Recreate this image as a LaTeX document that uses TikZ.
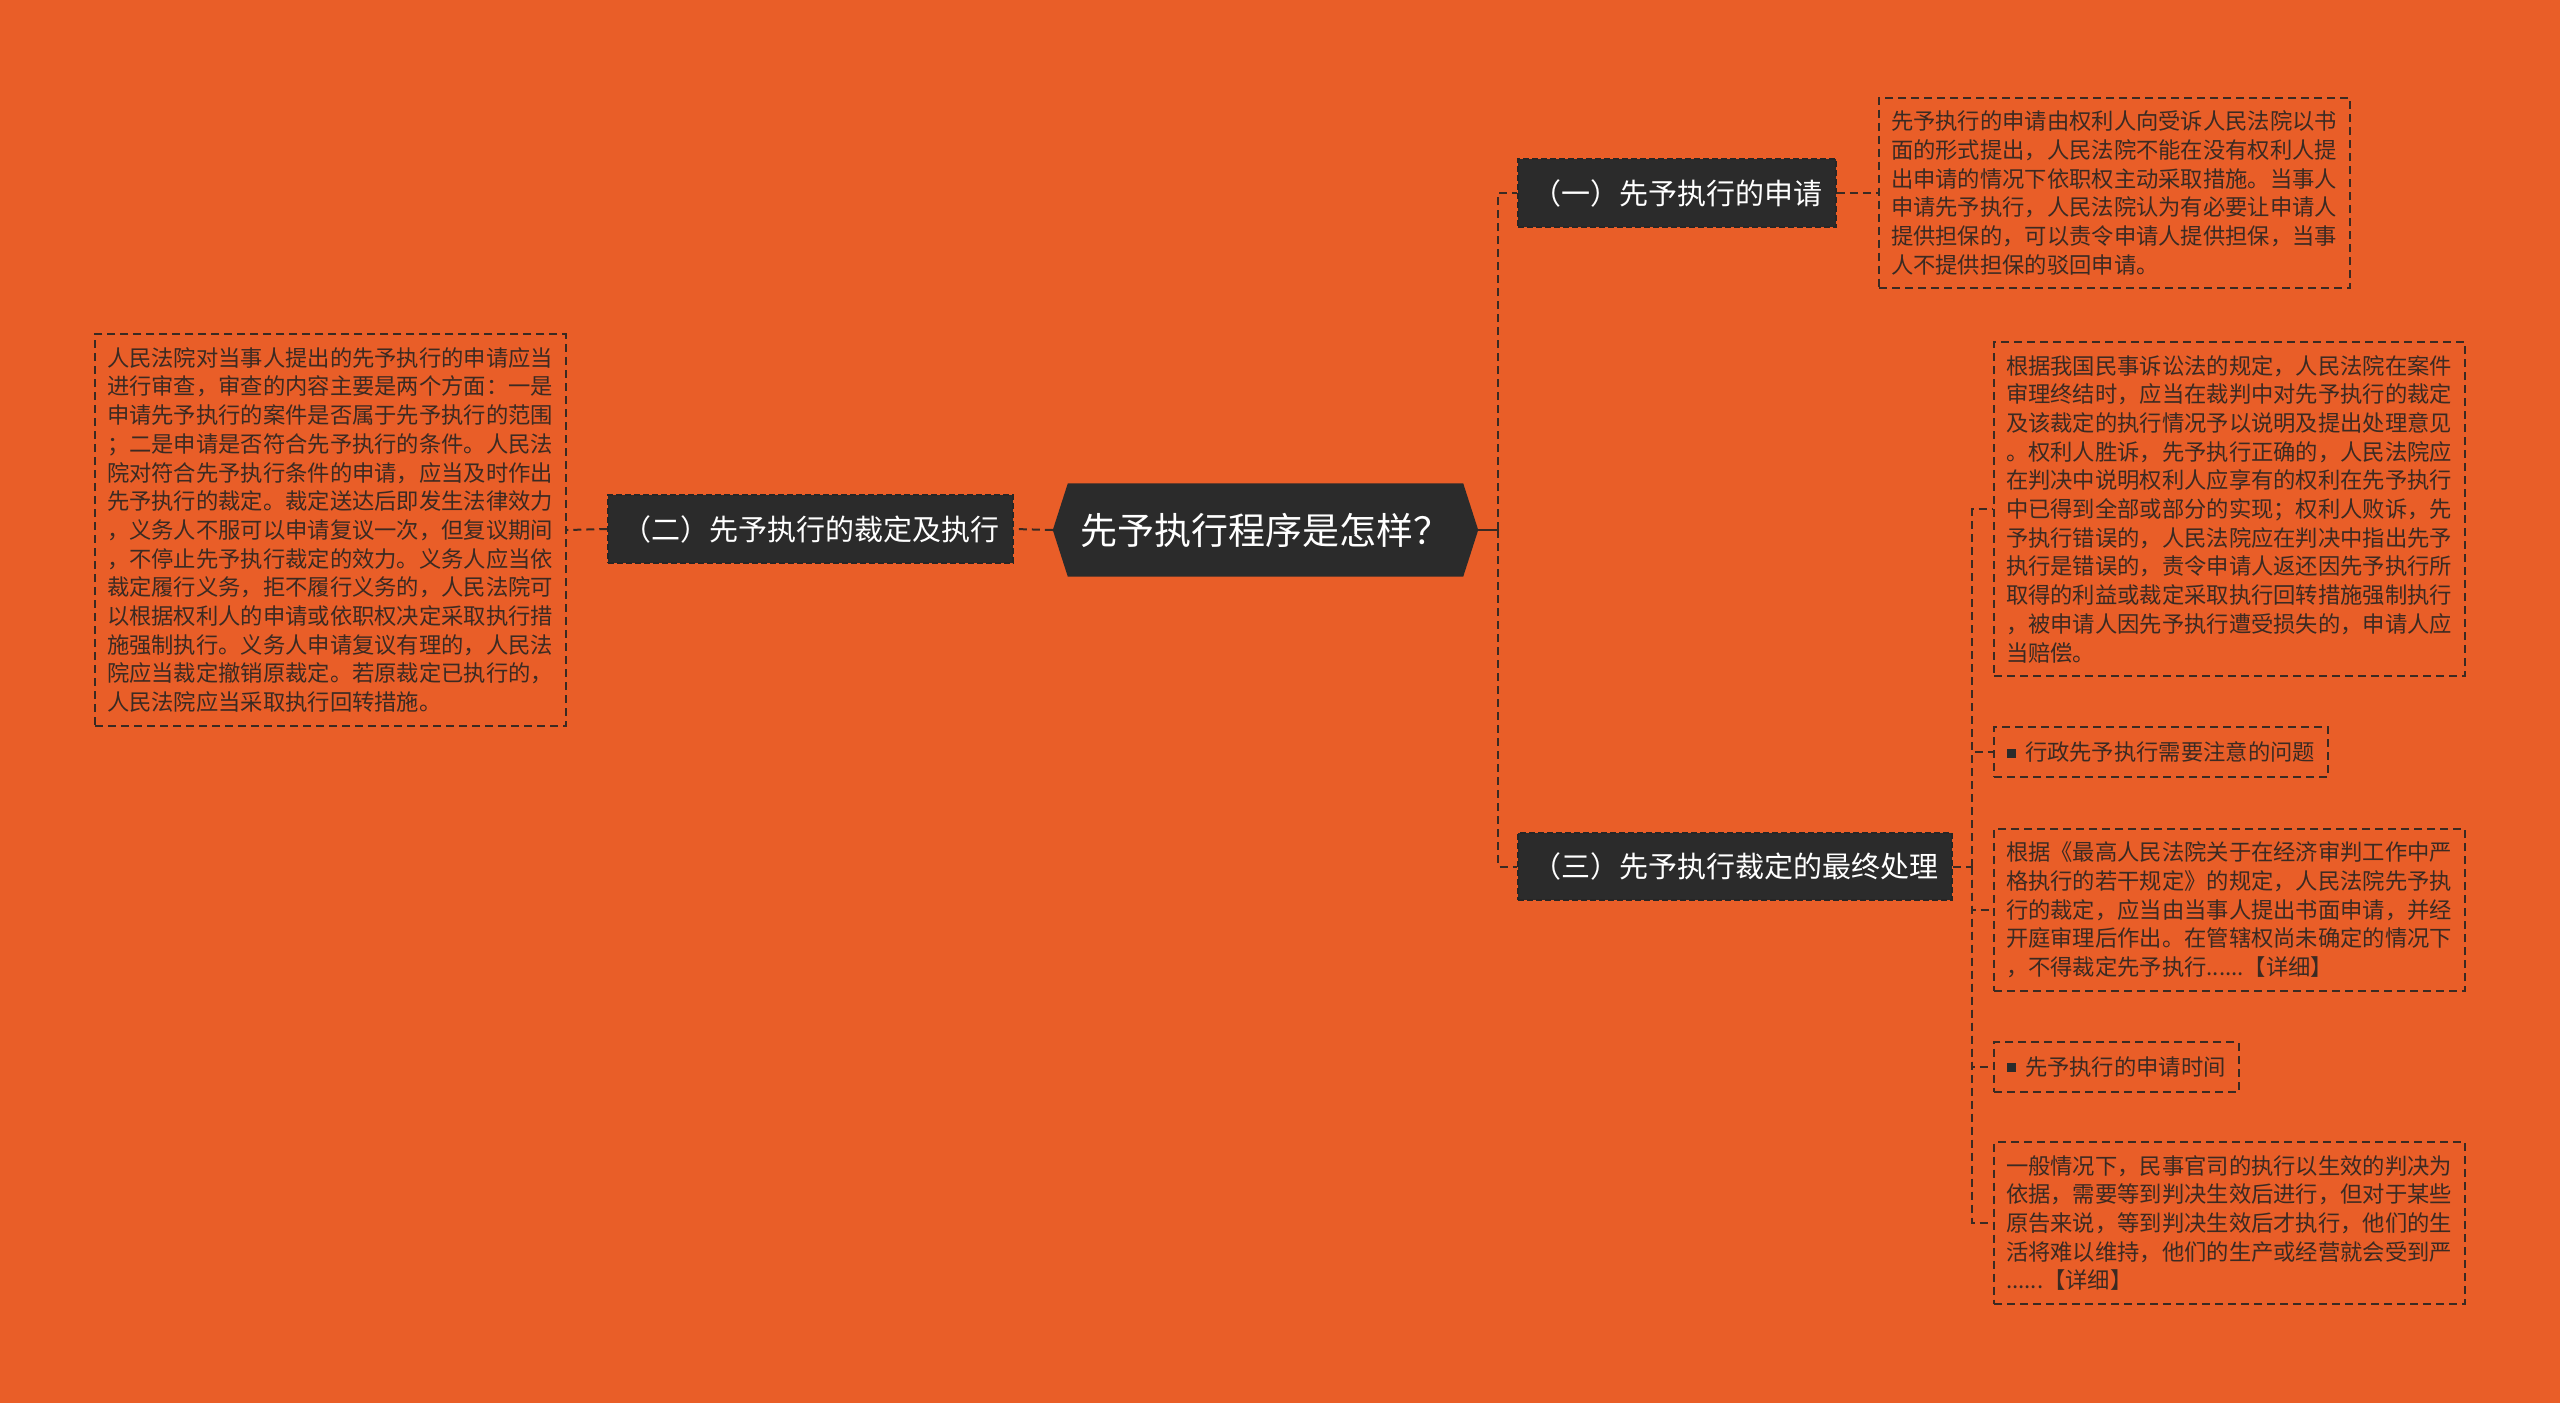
\documentclass[tikz,border=0pt]{standalone}
\usepackage{fontspec}
\setmainfont{Noto Sans CJK SC}
\usetikzlibrary{backgrounds}
\definecolor{bgorange}{HTML}{E95E28}
\definecolor{nodedark}{HTML}{2B2B2B}
\definecolor{inkbrown}{HTML}{3B2A22}
\newcommand{\sqmark}{\textcolor{nodedark}{\rule[3pt]{9pt}{9pt}}\hspace{9pt}}
\begin{document}
\begin{tikzpicture}[x=1pt,y=-1pt,
  link/.style={draw=inkbrown,line width=2pt,dash pattern=on 8pt off 5pt},
  branch/.style={fill=nodedark,draw=black!85,line width=1.5pt,dash pattern=on 6pt off 3pt,
    text=white,font=\fontsize{29}{34}\selectfont,minimum height=68pt,inner sep=0pt},
  leaf/.style={draw=inkbrown,line width=2pt,dash pattern=on 8pt off 5pt,text=inkbrown,
    font=\fontsize{22.3}{28.7}\selectfont,text width=447pt,align=left,inner xsep=12pt,inner ysep=13pt},
  tag/.style={draw=inkbrown,line width=2pt,dash pattern=on 8pt off 5pt,text=inkbrown,
    font=\fontsize{22.3}{28.7}\selectfont,minimum height=50pt,inner xsep=13pt,inner ysep=0pt}
]
\useasboundingbox (0,0) rectangle (2560,1403);

\node[text=white,font=\fontsize{37}{44}\selectfont,minimum width=425pt,minimum height=93pt,inner sep=0pt]
  (root) at (1265.5,530) {先予执行程序是怎样？};

\node[branch,minimum width=318pt] (apply) at (1677,193) {（一）先予执行的申请};
\node[branch,minimum width=405pt] (ruling) at (810.5,529) {（二）先予执行的裁定及执行};
\node[branch,minimum width=434pt,minimum height=67pt] (final) at (1735,866.5) {（三）先予执行裁定的最终处理};

\node[leaf,anchor=west] (applytxt) at (1878,193) {先予执行的申请由权利人向受诉人民法院以书\\
面的形式提出，人民法院不能在没有权利人提\\
出申请的情况下依职权主动采取措施。当事人\\
申请先予执行，人民法院认为有必要让申请人\\
提供担保的，可以责令申请人提供担保，当事\\
人不提供担保的驳回申请。};

\node[leaf,anchor=east] (rulingtxt) at (567,530) {人民法院对当事人提出的先予执行的申请应当\\
进行审查，审查的内容主要是两个方面：一是\\
申请先予执行的案件是否属于先予执行的范围\\
；二是申请是否符合先予执行的条件。人民法\\
院对符合先予执行条件的申请，应当及时作出\\
先予执行的裁定。裁定送达后即发生法律效力\\
，义务人不服可以申请复议一次，但复议期间\\
，不停止先予执行裁定的效力。义务人应当依\\
裁定履行义务，拒不履行义务的，人民法院可\\
以根据权利人的申请或依职权决定采取执行措\\
施强制执行。义务人申请复议有理的，人民法\\
院应当裁定撤销原裁定。若原裁定已执行的，\\
人民法院应当采取执行回转措施。};

\node[leaf,anchor=west] (finaltxt) at (1993,509) {根据我国民事诉讼法的规定，人民法院在案件\\
审理终结时，应当在裁判中对先予执行的裁定\\
及该裁定的执行情况予以说明及提出处理意见\\
。权利人胜诉，先予执行正确的，人民法院应\\
在判决中说明权利人应享有的权利在先予执行\\
中已得到全部或部分的实现；权利人败诉，先\\
予执行错误的，人民法院应在判决中指出先予\\
执行是错误的，责令申请人返还因先予执行所\\
取得的利益或裁定采取执行回转措施强制执行\\
，被申请人因先予执行遭受损失的，申请人应\\
当赔偿。};

\node[tag,anchor=west] (admintag) at (1993,752) {\sqmark 行政先予执行需要注意的问题};

\node[leaf,anchor=west] (admintxt) at (1993,910) {根据《最高人民法院关于在经济审判工作中严\\
格执行的若干规定》的规定，人民法院先予执\\
行的裁定，应当由当事人提出书面申请，并经\\
开庭审理后作出。在管辖权尚未确定的情况下\\
，不得裁定先予执行......【详细】};

\node[tag,anchor=west] (timetag) at (1993,1067) {\sqmark 先予执行的申请时间};

\node[leaf,anchor=west] (timetxt) at (1993,1223) {一般情况下，民事官司的执行以生效的判决为\\
依据，需要等到判决生效后进行，但对于某些\\
原告来说，等到判决生效后才执行，他们的生\\
活将难以维持，他们的生产或经营就会受到严\\
......【详细】};

\begin{scope}[on background layer]
  \fill[bgorange] (0,0) rectangle (2560,1403);
  \fill[nodedark] ([xshift=15pt]root.north west) -- ([xshift=-15pt]root.north east) -- (root.east)
    -- ([xshift=-15pt]root.south east) -- ([xshift=15pt]root.south west) -- (root.west) -- cycle;
\end{scope}

% forks
\coordinate (rootfork) at (1498,530);
\coordinate (finalfork) at (1972,866.5);

\draw[inkbrown,line width=2pt] (root.east) -- (rootfork);
\draw[link] (rootfork) |- (apply.west);
\draw[link] (rootfork) |- (final.west);
\draw[link] (root.west) -- (ruling.east);
\draw[link] (ruling.west) -- (rulingtxt.east);
\draw[link] (apply.east) -- (applytxt.west);
\draw[link] (final.east) -- (finalfork);
\foreach \leafname in {finaltxt,admintag,admintxt,timetag,timetxt}
  \draw[link] (finalfork) |- (\leafname.west);
\end{tikzpicture}
\end{document}
